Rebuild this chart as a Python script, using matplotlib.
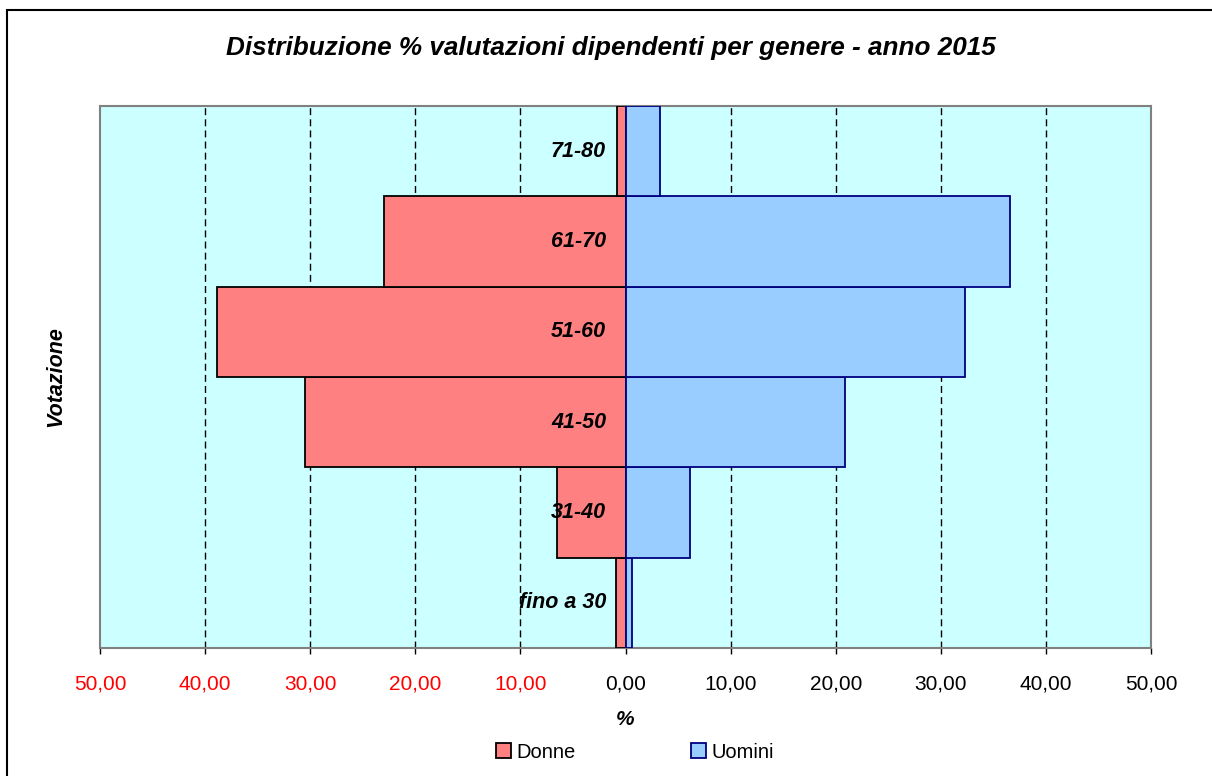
import matplotlib.pyplot as plt
from matplotlib.patches import Rectangle

plt.rcParams['font.family'] = ['Liberation Sans', 'DejaVu Sans']

# Distribution of evaluation scores by gender (percent)
categorie = ['fino a 30', '31-40', '41-50', '51-60', '61-70', '71-80']
donne = [0.9, 6.5, 30.5, 38.9, 23.0, 0.8]
uomini = [0.6, 6.1, 20.9, 32.3, 36.6, 3.3]
tick_vals = [-50, -40, -30, -20, -10, 0, 10, 20, 30, 40, 50]

fig = plt.figure(figsize=(12.12, 7.76), dpi=100)
ax = fig.add_axes([100 / 1212, 1 - 648 / 776, 1051 / 1212, 542 / 776])
ax.set_facecolor('#CCFFFF')

y = list(range(len(categorie)))
ax.barh(y, [-v for v in donne], height=1.0, color='#FF8080',
        edgecolor='black', linewidth=1.3, label='Donne', zorder=3)
ax.barh(y, uomini, height=1.0, color='#99CCFF',
        edgecolor='#000080', linewidth=1.3, label='Uomini', zorder=3)

# dashed vertical gridlines
for v in tick_vals[1:-1]:
    if v != 0:
        ax.axvline(v, color='black', linewidth=1, linestyle=(0, (5, 3)), zorder=1)
ax.axvline(0, color='black', linewidth=1, zorder=2)

ax.set_xlim(-50, 50)
ax.set_ylim(-0.5, len(categorie) - 0.5)

# category labels sit on the zero axis
for i, cat in enumerate(categorie):
    ax.annotate(cat, xy=(0, i), xytext=(-14, 0), textcoords='offset points',
                ha='right', va='center', fontsize=15.5, fontweight='bold',
                fontstyle='italic', zorder=5)
ax.set_yticks([])

ax.set_xticks(tick_vals)
ax.set_xticklabels([f'{abs(v):.2f}'.replace('.', ',') for v in tick_vals])
for lbl, v in zip(ax.get_xticklabels(), tick_vals):
    lbl.set_color('red' if v < 0 else 'black')
ax.tick_params(axis='x', direction='out', length=4, width=1, color='black',
               pad=15, labelsize=15)

for s in ax.spines.values():
    s.set_color('#808080')
    s.set_linewidth(1.5)

ax.set_xlabel('%', fontsize=15, fontweight='bold', fontstyle='italic', labelpad=12)
ax.set_ylabel('Votazione', fontsize=15.5, fontweight='bold', fontstyle='italic', labelpad=24)

fig.text(611 / 1212, 1 - 48 / 776,
         'Distribuzione % valutazioni dipendenti per genere - anno 2015',
         ha='center', va='center', fontsize=18.8, fontweight='bold', fontstyle='italic')

fig.legend(loc='center', bbox_to_anchor=(635 / 1212, 1 - 752 / 776), ncol=2,
           frameon=False, fontsize=14.5, handlelength=0.75, handleheight=0.75,
           handletextpad=0.3, columnspacing=5.7)

# outer chart frame
fig.add_artist(Rectangle((7 / 1212, -0.5), 2, 0.5 + 1 - 10 / 776,
                         transform=fig.transFigure, fill=False,
                         edgecolor='black', linewidth=1.5))

fig.savefig('out.png', dpi=100)
